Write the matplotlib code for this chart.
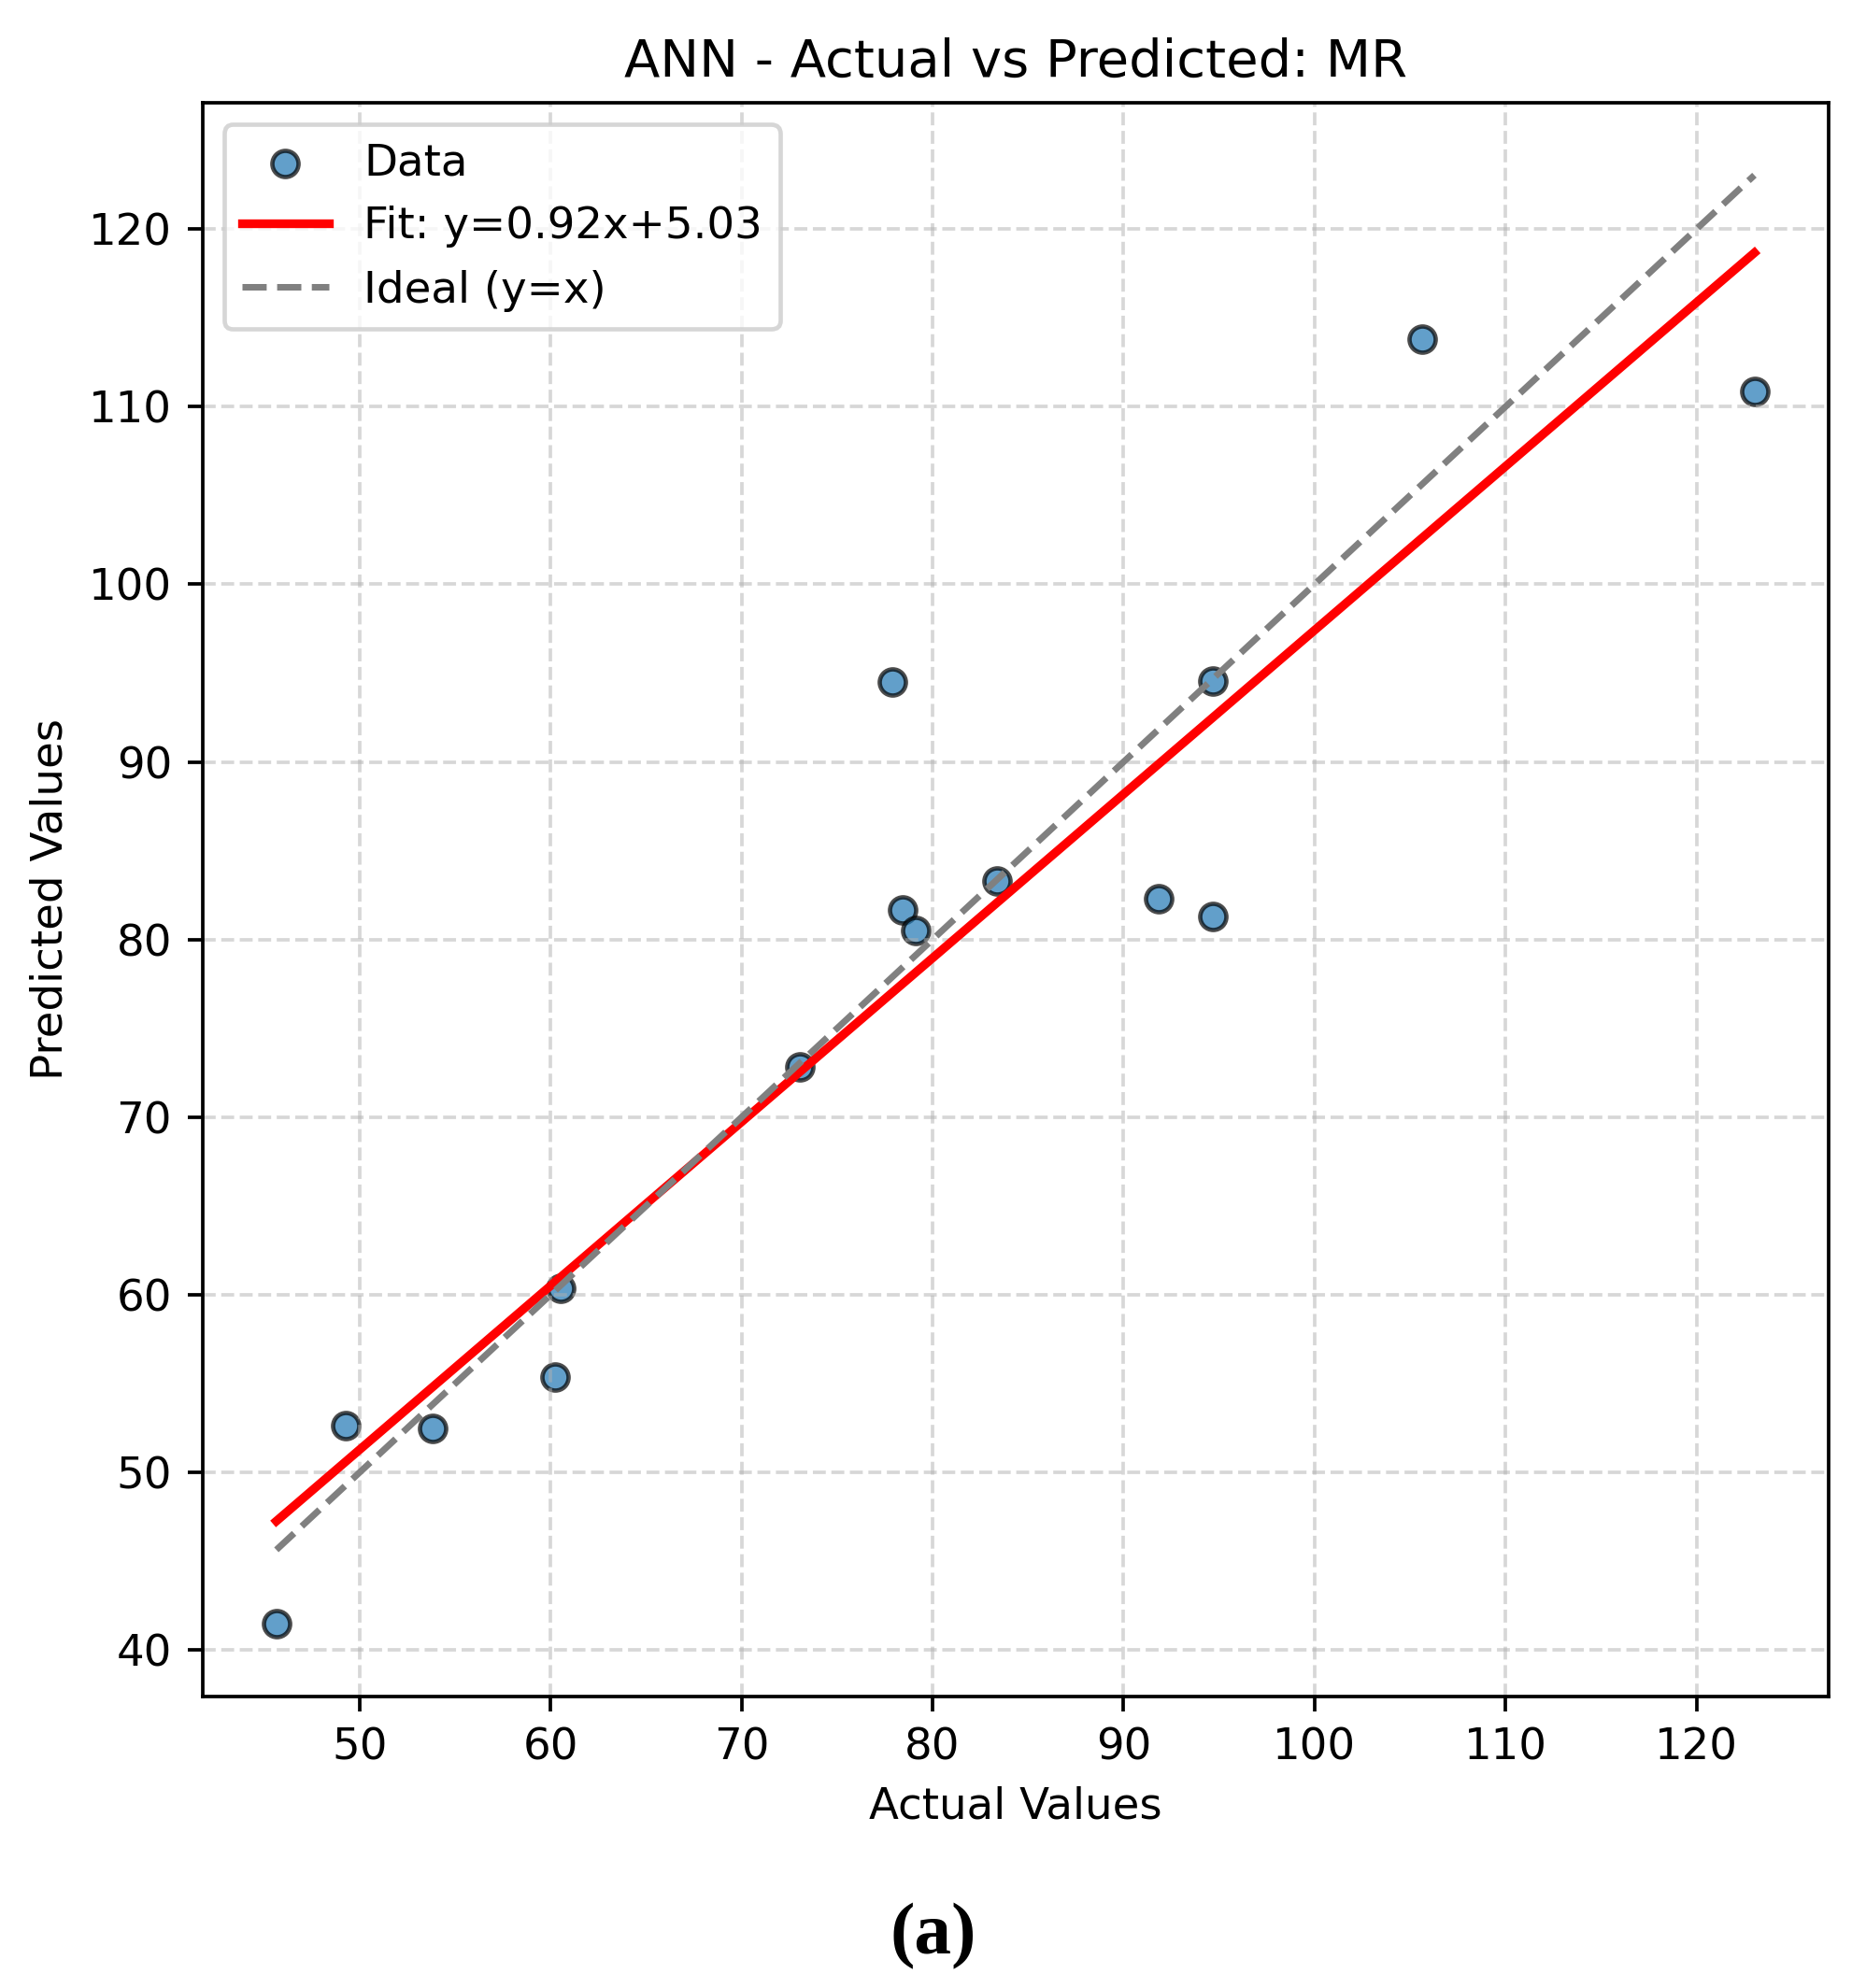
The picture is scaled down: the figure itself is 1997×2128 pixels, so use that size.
import numpy as np
import matplotlib
matplotlib.use("Agg")
import matplotlib.pyplot as plt

# Values
actual = [45.65, 49.28, 53.85, 60.25, 60.52, 73.08, 77.92, 78.42,
          79.10, 83.36, 91.85, 94.70, 94.70, 105.63, 123.03]
predicted = [41.49, 52.62, 52.50, 55.36, 60.36, 72.83, 94.50, 81.66,
             80.52, 83.30, 82.31, 94.57, 81.30, 113.78, 110.87]

title = "ANN - Actual vs Predicted: MR"
fit_label = "Fit: y=0.92x+5.03"
x_ticks = [50, 60, 70, 80, 90, 100, 110, 120]
y_ticks = [40, 50, 60, 70, 80, 90, 100, 110, 120]

actual = np.array(actual)
predicted = np.array(predicted)

# Linear fit through the points
slope, intercept = np.polyfit(actual, predicted, 1)
x_line = np.array([actual.min(), actual.max()])

# 336 dpi keeps matplotlib default sizes at the reference scale
fig = plt.figure(figsize=(1997 / 336, 2128 / 336), dpi=336)
ax = fig.add_axes([0.1085, 0.1468, 0.8713, 0.8015])

ax.scatter(actual, predicted, color="C0", edgecolor="k", alpha=0.7, label="Data")
ax.plot(x_line, slope * x_line + intercept, color="red", linewidth=2, label=fit_label)
ax.plot(x_line, x_line, color="gray", linestyle="--", linewidth=1.5, label="Ideal (y=x)")

ax.set_xticks(x_ticks)
ax.set_yticks(y_ticks)
ax.set_title(title, fontsize=12)
ax.set_xlabel("Actual Values")
ax.set_ylabel("Predicted Values")
ax.grid(True, linestyle="--", alpha=0.5)
ax.legend(loc="upper left")

fig.text(0.5, 0.026, "(a)", ha="center", va="center", fontsize=17,
         fontweight="bold", family=["Liberation Serif", "DejaVu Serif"])

fig.savefig("out.png", dpi=336)
